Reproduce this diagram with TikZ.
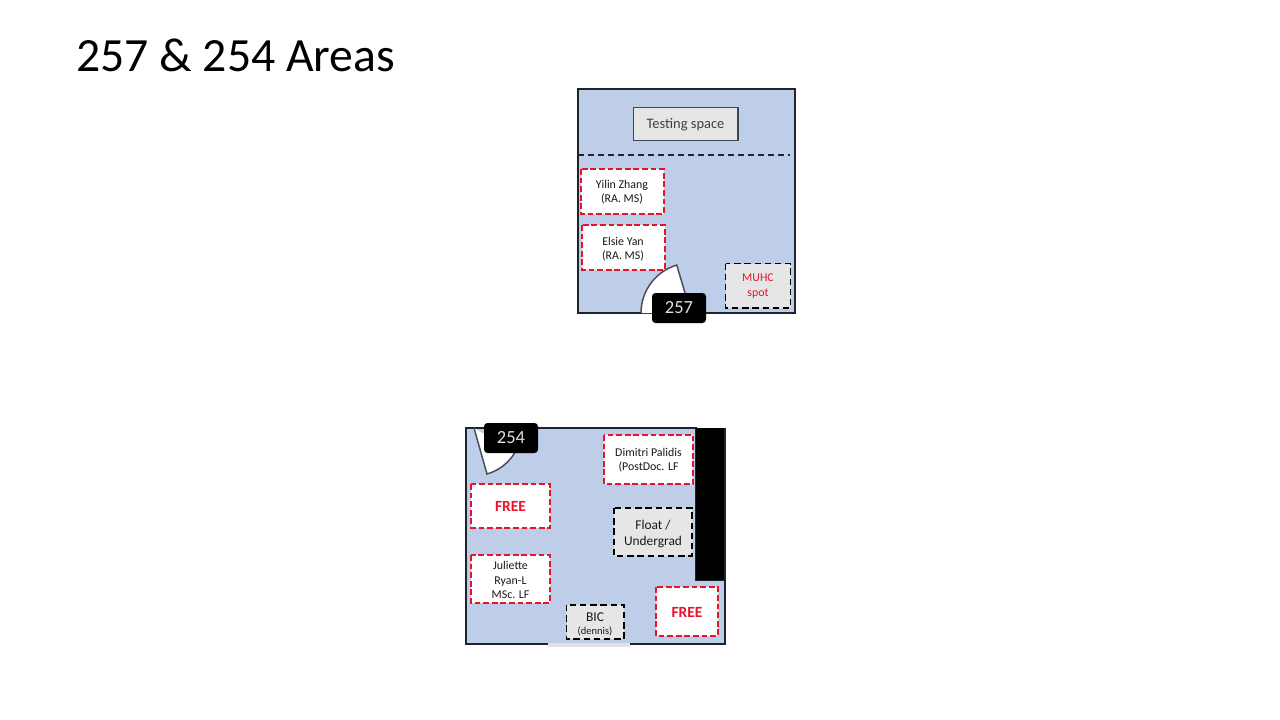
\documentclass[tikz,border=0pt]{standalone}
\usepackage{fontspec}
\setmainfont{Carlito}
\definecolor{roomblue}{HTML}{BECEE9}
\definecolor{dashred}{HTML}{E8142A}
\definecolor{boxgrey}{HTML}{E6E6E6}
\definecolor{wallink}{HTML}{1C2430}
\definecolor{gaplight}{HTML}{E0E2E4}
\tikzset{
  room/.style={fill=roomblue,draw=wallink,line width=1.7pt},
  redbox/.style={fill=white,draw=dashred,line width=1.9pt,dash pattern=on 5.8pt off 2.8pt},
  greybox/.style={fill=boxgrey,draw=black,line width=1.9pt,dash pattern=on 6.4pt off 3.8pt},
  doorfill/.style={fill=white},
  doorline/.style={draw=wallink!80!white,line width=1.5pt},
  tag/.style={fill=black,text=white!88!black,rounded corners=3.5pt,font=\fontsize{18.5}{18}\selectfont,inner sep=0pt},
  label/.style={align=center,font=\fontsize{11.9}{14.3}\selectfont,text=black!90},
  midlabel/.style={align=center,font=\fontsize{13.4}{16}\selectfont,text=black!90},
  free/.style={text=dashred,font=\fontsize{15.5}{16}\selectfont\bfseries}
}
\begin{document}
\begin{tikzpicture}[x=1pt,y=-1pt]
\useasboundingbox (0,0) rectangle (1280,720);
\fill[white] (0,0) rectangle (1280,720);
\node[anchor=base west,inner sep=0pt,font=\fontsize{47.7}{48}\selectfont] (title) at (76,71) {257 \& 254 Areas};
% room 257
\draw[room] (578,89) rectangle (795,313);
\draw[fill=boxgrey,draw=wallink!85!white,line width=1.7pt] (633.5,107.5) rectangle (738,140.5);
\node[label,font=\fontsize{14.5}{14}\selectfont,text=black!75] (testing) at (685.5,125) {Testing space};
\draw[draw=wallink,line width=1.9pt,dash pattern=on 6.4pt off 3.6pt] (578,155) -- (790,155);
\draw[redbox] (581,169) rectangle (664,214);
\node[label] (yilin) at (622,192) {Yilin Zhang\\(RA. MS)};
\draw[redbox] (582,225) rectangle (665,270);
\node[label] (elsie) at (623,249) {Elsie Yan\\(RA. MS)};
\draw[greybox] (725.5,263.5) rectangle (790.5,308);
\node[label,text=dashred] (muhc) at (758,286) {MUHC\\spot};
\fill[doorfill] (641,313) arc[start angle=180,end angle=253.4,radius=50] -- (691,313) -- cycle;
\draw[doorline] (641,313) arc[start angle=180,end angle=253.4,radius=50] -- (691,313);
\node[tag,minimum width=54pt,minimum height=30pt] (tagA) at (679,308) {257};
% room 254
\draw[room] (466,428) -- (696,428) -- (696,580) -- (725,580) -- (725,644) -- (466,644) -- cycle;
\fill[black] (696,428) rectangle (725,580);
\draw[draw=wallink,line width=1.7pt] (725,428) -- (725,580);
\fill[doorfill] (474,428) -- (487,474) arc[start angle=74,end angle=31,radius=48] -- cycle;
\draw[doorline] (474,428) -- (487,474) arc[start angle=74,end angle=31,radius=48];
\node[tag,minimum width=54pt,minimum height=30pt] (tagB) at (511,438) {254};
\fill[gaplight] (548,642.5) rectangle (630,647);
\draw[redbox] (604,435) rectangle (693,484);
\node[label] (dimitri) at (648.5,460) {Dimitri Palidis\\(PostDoc. LF};
\draw[redbox] (471,484) rectangle (550,528);
\node[free] (freeA) at (510.5,506) {FREE};
\draw[greybox] (614,508) rectangle (692,556);
\node[midlabel] (float) at (653,534) {Float /\\Undergrad};
\draw[redbox] (471,555) rectangle (550,603);
\node[label] (juliette) at (510.5,580) {Juliette\\Ryan-L\\MSc. LF};
\draw[greybox] (566.5,605) rectangle (624,639);
\node[align=center,font=\fontsize{13.5}{13}\selectfont,text=black!90] (bic) at (595,617) {BIC};
\node[font=\fontsize{10.5}{10}\selectfont,text=black!90] (dennis) at (595,631) {(dennis)};
\draw[redbox] (656,587) rectangle (718,636);
\node[free] (freeB) at (687,612) {FREE};
\end{tikzpicture}
\end{document}
